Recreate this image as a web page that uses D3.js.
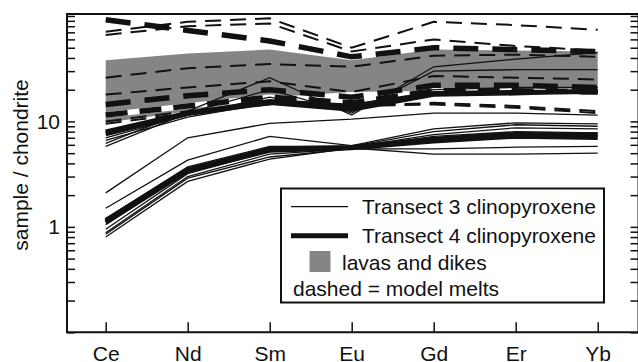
<!DOCTYPE html>
<html><head><meta charset="utf-8">
<script src="https://cdn.jsdelivr.net/npm/d3@7"></script>
<style>
html,body{margin:0;padding:0;background:#fff;}
text{font-family:"Liberation Sans",Arial,sans-serif;fill:#111;}
</style></head>
<body>
<svg id="c" width="638" height="362"></svg>
<script>
// ---- data ----
const elements = ["Ce","Nd","Sm","Eu","Gd","Er","Yb"];
const yTickLabels = [1, 10];
// lavas and dikes field (upper / lower envelope)
const lavaTop    = [38, 44, 48, 38, 48, 47, 46];
const lavaBottom = [9.7, 12.5, 17, 19, 19.5, 19.5, 19];
// Transect 3 clinopyroxene (thin solid)
const transect3 = [
  [6.2, 12.5, 26, 11.5, 33, 39, 45],
  [5.8, 12, 20, 12, 30, 31, 31],
  [7.0, 11.5, 17, 12.5, 20, 21, 21],
  [6.6, 11, 15, 14, 18, 19, 19.5],
  [2.1, 7.0, 9.6, 10.5, 12.0, 12.0, 11.5],
  [1.5, 4.3, 7.2, 5.9, 8.5, 9.7, 9.5],
  [1.2, 3.7, 5.8, 5.8, 8.0, 9.3, 9.0],
  [1.05, 3.4, 5.5, 5.7, 7.5, 8.7, 8.5],
  [0.95, 3.2, 5.2, 5.6, 7.2, 8.0, 7.8],
  [0.88, 3.0, 4.9, 5.5, 6.8, 7.4, 7.3],
  [0.85, 2.9, 4.6, 5.5, 5.5, 5.7, 5.8],
  [0.8, 2.7, 4.4, 5.6, 4.9, 4.9, 5.0]
];
// Transect 4 clinopyroxene (thick solid)
const transect4 = [
  [8.0, 12.0, 15.5, 14.0, 18.5, 19.0, 19.0],
  [7.6, 11.8, 15.0, 13.0, 18.0, 18.5, 19.5],
  [1.15, 3.5, 5.5, 5.7, 6.8, 7.6, 7.5],
  [1.1, 3.4, 5.3, 5.6, 6.5, 7.2, 7.0]
];
// model melts, thin dashed
const meltsThin = [
  [71, 88, 95, 50, 88, 82, 74],
  [66, 80, 85, 46, 60, 52, 47],
  [26, 32, 35, 33, 42, 43, 41],
  [18, 21, 24, 19, 27, 26, 25],
  [10, 12.5, 15, 14, 15, 14, 12.5],
  [9.5, 12, 14.5, 14, 14.5, 13.5, 12]
];
// model melts, thick dashed
const meltsThick = [
  [92, 73, 58, 41, 50, 48, 46],
  [14.5, 17.5, 20, 17, 22, 22, 21]
];
// model melt, thick dashed drawn black on white
const meltsThickWhite = [
  [11.5, 14, 17, 15, 19.5, 19.5, 19]
];
const legendLabels = ["Transect 3 clinopyroxene","Transect 4 clinopyroxene","lavas and dikes","dashed = model melts"];

// ---- layout ----
const L = 67, R = 638.5, T = 14, B = 332.3;
const svg = d3.select("#c");
const x = d3.scalePoint().domain(elements).range([105.7, 597.7]);
const y = d3.scaleLog().domain([0.1, 100]).range([B, 16]);

// gray field
const area = d3.area().x((d,i)=>x(elements[i])).y0((d,i)=>y(lavaBottom[i])).y1(d=>y(d));
svg.append("path").datum(lavaTop).attr("d", area).attr("fill", "#858585");

const line = d3.line().x((d,i)=>x(elements[i])).y(d=>y(d));
const g = svg.append("g").attr("fill","none");
g.selectAll(".mt").data(meltsThin).join("path").attr("d", line)
  .attr("stroke","#111").attr("stroke-width",2).attr("stroke-dasharray","16 9");
g.selectAll(".mww").data(meltsThickWhite).join("path").attr("d", line)
  .attr("stroke","#fff").attr("stroke-width",5.5);
g.selectAll(".mwb").data(meltsThickWhite).join("path").attr("d", line)
  .attr("stroke","#111").attr("stroke-width",5.5).attr("stroke-dasharray","22 12");
g.selectAll(".mk").data(meltsThick).join("path").attr("d", line)
  .attr("stroke","#111").attr("stroke-width",5.5).attr("stroke-dasharray","25 14");
g.selectAll(".t3").data(transect3).join("path").attr("d", line)
  .attr("stroke","#111").attr("stroke-width",1.3);
g.selectAll(".t4").data(transect4).join("path").attr("d", line)
  .attr("stroke","#111").attr("stroke-width",4.5);

// axes
const yTicks = [];
[0.1,1,10].forEach(dec => { for (let k=1;k<=9;k++) yTicks.push(+(dec*k).toPrecision(3)); });
yTicks.push(100);
const fmt = v => yTickLabels.includes(v) ? String(v) : "";
const axL = svg.append("g").attr("transform",`translate(${L},0)`)
  .call(d3.axisLeft(y).tickValues(yTicks).tickFormat(fmt).tickSizeInner(-8).tickSizeOuter(0).tickPadding(7));
const axR = svg.append("g").attr("transform",`translate(${R},0)`)
  .call(d3.axisRight(y).tickValues(yTicks).tickFormat("").tickSizeInner(-8).tickSizeOuter(0));
const axB = svg.append("g").attr("transform",`translate(0,${B})`)
  .call(d3.axisBottom(x).tickSizeInner(-10).tickSizeOuter(0).tickPadding(14));
[axL,axR,axB].forEach(a=>{
  a.selectAll("path.domain").remove();
  a.selectAll("line").attr("stroke","#111").attr("stroke-width",1.5);
  a.selectAll("text").attr("font-size",21).attr("fill","#111").attr("font-family","Liberation Sans, Arial, sans-serif");
});
axB.selectAll("text").attr("dy",null).attr("y",29);
// frame
svg.append("path").attr("d",`M${L},${T}V${B}H${R}V${T}Z`).attr("fill","none").attr("stroke","#111").attr("stroke-width",2);

// y label
svg.append("text").attr("transform","translate(28,165) rotate(-90)")
  .attr("text-anchor","middle").attr("font-size",21).text("sample / chondrite");

// legend
const lg = svg.append("g");
lg.append("rect").attr("x",281).attr("y",188.5).attr("width",323).attr("height",114)
  .attr("fill","#fff").attr("stroke","#111").attr("stroke-width",2);
lg.append("line").attr("x1",291).attr("x2",348).attr("y1",206.7).attr("y2",206.7).attr("stroke","#111").attr("stroke-width",1.3);
lg.append("line").attr("x1",291).attr("x2",348).attr("y1",235.7).attr("y2",235.7).attr("stroke","#111").attr("stroke-width",5);
lg.append("rect").attr("x",309.5).attr("y",251).attr("width",21).attr("height",21).attr("fill","#858585");
const lx = [362, 362, 342, 293], ly = [214, 243, 270, 296];
legendLabels.forEach((t,i)=>lg.append("text").attr("x",lx[i]).attr("y",ly[i]).attr("font-size",21).text(t));
</script>
</body></html>
